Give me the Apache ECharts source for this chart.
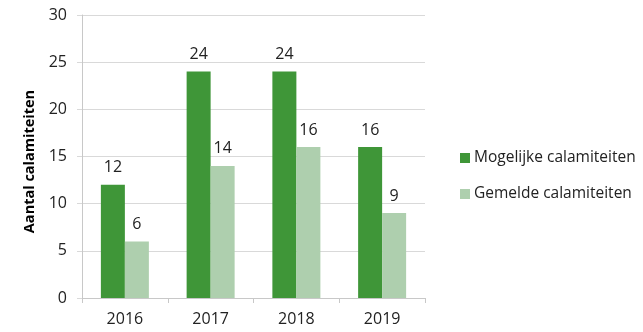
<!DOCTYPE html>
<html><head><meta charset="utf-8">
<script src="https://cdn.jsdelivr.net/npm/echarts@6/dist/echarts.min.js"></script>
<style>html,body{margin:0;padding:0;background:#fff}#c{width:643px;height:332px}</style>
</head><body><div id="c"></div>
<script>
const categories = ['2016', '2017', '2018', '2019'];
const mogelijke = [12, 24, 24, 16];
const gemelde = [6, 14, 16, 9];
const seriesNames = ['Mogelijke calamiteiten', 'Gemelde calamiteiten'];
const yAxisName = 'Aantal calamiteiten';

const font = '"Open Sans", sans-serif';
const chart = echarts.init(document.getElementById('c'), null, {renderer: 'canvas'});
chart.setOption({
  animation: false,
  grid: {left: 82, right: 218, top: 15, bottom: 34, containLabel: false},
  legend: {
    orient: 'vertical', left: 455, top: 145, itemGap: 20,
    itemWidth: 10, itemHeight: 10, icon: 'rect',
    textStyle: {fontFamily: font, fontSize: 15.5, color: '#222', padding: [0, 0, 0, -1]},
    data: seriesNames
  },
  xAxis: {
    type: 'category', data: categories,
    axisLine: {lineStyle: {color: '#c8c8c8', width: 1}},
    axisTick: {show: true, length: 5, lineStyle: {color: '#c8c8c8'}},
    axisLabel: {fontFamily: font, fontSize: 16, color: '#222', margin: 13}
  },
  yAxis: {
    type: 'value', min: 0, max: 30, interval: 5,
    name: yAxisName, nameLocation: 'middle', nameGap: 44,
    nameTextStyle: {fontFamily: font, fontSize: 14.5, fontWeight: 'bold', color: '#000', padding: [0, 10, 0, 0]},
    axisLine: {show: true, lineStyle: {color: '#c8c8c8'}},
    axisTick: {show: true, length: 5, lineStyle: {color: '#d9d9d9'}},
    splitLine: {lineStyle: {color: '#d9d9d9'}},
    axisLabel: {fontFamily: font, fontSize: 16, color: '#222', margin: 15}
  },
  series: [
    {name: seriesNames[0], type: 'bar', data: mogelijke, barWidth: 24, barGap: '0%',
     itemStyle: {color: '#3f9638'},
     label: {show: true, position: 'top', distance: 9, fontFamily: font, fontSize: 16, color: '#222'}},
    {name: seriesNames[1], type: 'bar', data: gemelde, barWidth: 24, barGap: '0%',
     itemStyle: {color: '#aecfae'},
     label: {show: true, position: 'top', distance: 9, fontFamily: font, fontSize: 16, color: '#222'}}
  ]
});
</script></body></html>
